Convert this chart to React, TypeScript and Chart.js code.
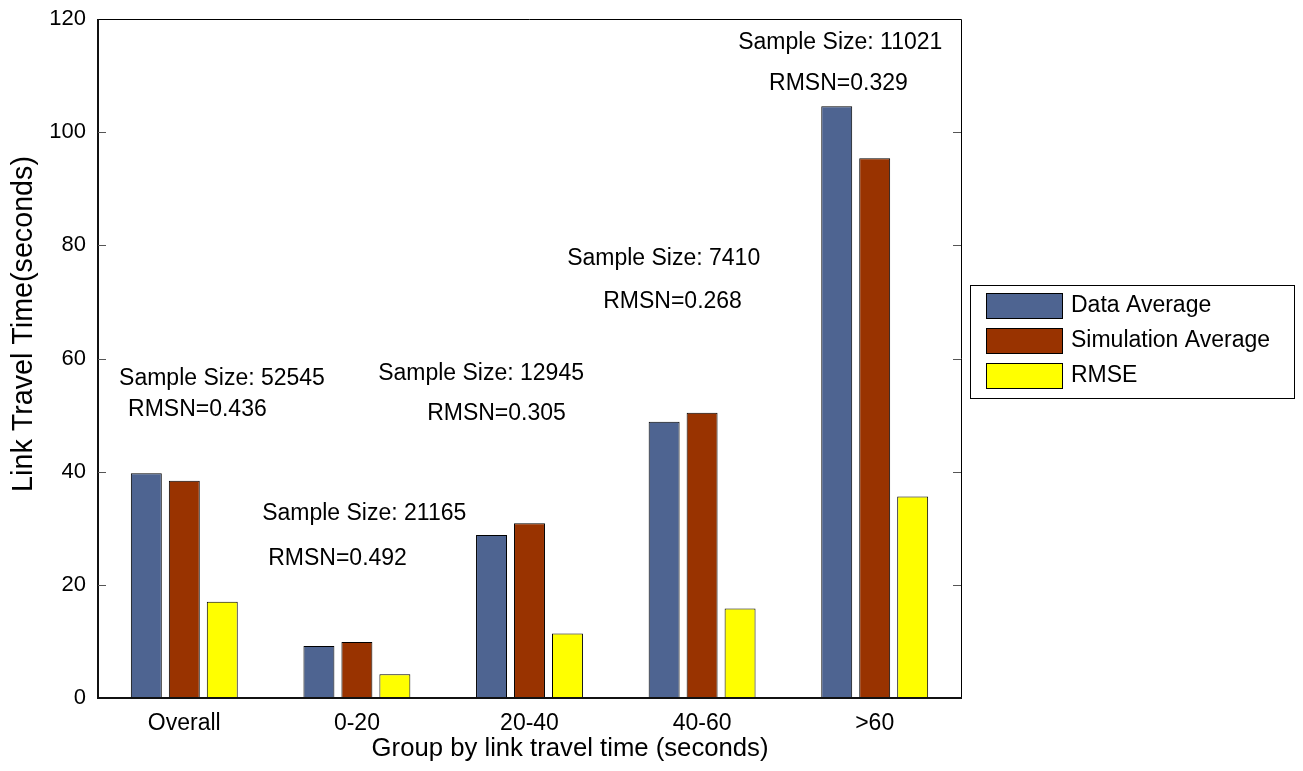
import React, { useEffect, useRef } from "react";
import { Chart, registerables } from "chart.js";

Chart.register(...registerables);

const categories = ["Overall", "0-20", "20-40", "40-60", ">60"];
const dataAverage = [39.7, 9.2, 28.8, 48.8, 104.6];
const simulationAverage = [38.4, 9.9, 30.9, 50.4, 95.4];
const rmse = [17.0, 4.2, 11.4, 15.8, 35.6];
const yTicks = [0, 20, 40, 60, 80, 100, 120];

const sampleSizeLabels = ["Sample Size: 52545", "Sample Size: 21165", "Sample Size: 12945", "Sample Size: 7410", "Sample Size: 11021"];
const sampleSizeX = [-0.378, 0.451, 1.123, 2.218, 3.209];
const sampleSizeY = [56.5, 32.5, 57.4, 77.7, 115.9];
const rmsnLabels = ["RMSN=0.436", "RMSN=0.492", "RMSN=0.305", "RMSN=0.268", "RMSN=0.329"];
const rmsnX = [-0.326, 0.486, 1.407, 2.427, 3.388];
const rmsnY = [50.9, 24.7, 50.2, 70.0, 108.5];

const xTitle = "Group by link travel time (seconds)";
const yTitle = "Link Travel Time(seconds)";

const FONT = "Arial, 'Liberation Sans', Helvetica, sans-serif";

const framePlugin = {
  id: "frame",
  afterDraw(chart: any) {
    const { ctx, chartArea } = chart;
    const { left, right, top, bottom } = chartArea;
    const y = chart.scales.y;
    const x = chart.scales.x;
    ctx.save();
    ctx.strokeStyle = "#000";
    ctx.lineWidth = 1;
    ctx.beginPath();
    ctx.moveTo(left, top + 0.5);
    ctx.lineTo(right + 0.5, top + 0.5);
    ctx.lineTo(right + 0.5, bottom);
    ctx.stroke();
    ctx.lineWidth = 2;
    ctx.strokeStyle = "#111";
    ctx.beginPath();
    ctx.moveTo(left, top);
    ctx.lineTo(left, bottom);
    ctx.lineTo(right + 1, bottom);
    ctx.stroke();
    ctx.lineWidth = 1;
    ctx.strokeStyle = "#555";
    yTicks.forEach((v) => {
      if (v === 0 || v === 120) return;
      const py = Math.round(y.getPixelForValue(v)) + 0.5;
      ctx.beginPath();
      ctx.moveTo(left, py);
      ctx.lineTo(left + 8, py);
      ctx.moveTo(right, py);
      ctx.lineTo(right - 8, py);
      ctx.stroke();
    });
    ctx.fillStyle = "#000";
    ctx.font = `23px ${FONT}`;
    ctx.textAlign = "left";
    ctx.textBaseline = "middle";
    sampleSizeLabels.forEach((t, i) => {
      ctx.fillText(t, x.getPixelForValue(sampleSizeX[i]), y.getPixelForValue(sampleSizeY[i]));
    });
    rmsnLabels.forEach((t, i) => {
      ctx.fillText(t, x.getPixelForValue(rmsnX[i]), y.getPixelForValue(rmsnY[i]));
    });
    // axis titles
    ctx.textAlign = "center";
    ctx.font = `25.7px ${FONT}`;
    ctx.fillText(xTitle, x.getPixelForValue(2.235), bottom + 51);
    ctx.save();
    ctx.translate(left - 74, y.getPixelForValue(66.1));
    ctx.rotate(-Math.PI / 2);
    ctx.font = `28.7px ${FONT}`;
    ctx.fillText(yTitle, 0, 0);
    ctx.restore();
    // legend
    ctx.textAlign = "left";
    const lx = right + 9;
    const ly = top + 266;
    const lw = 324;
    const lh = 113;
    ctx.lineWidth = 1;
    ctx.strokeStyle = "#000";
    ctx.strokeRect(lx + 0.5, ly + 0.5, lw, lh);
    chart.data.datasets.forEach((ds: any, i: number) => {
      const sy = ly + 8 + i * 35;
      ctx.fillStyle = ds.backgroundColor;
      ctx.fillRect(lx + 16, sy, 76, 25);
      ctx.strokeStyle = "#000";
      ctx.strokeRect(lx + 16.5, sy + 0.5, 76, 25);
      ctx.fillStyle = "#000";
      ctx.font = `23px ${FONT}`;
      ctx.fillText(ds.label, lx + 101, sy + 13);
    });
    ctx.restore();
  },
};

export default function App() {
  const ref = useRef<HTMLCanvasElement | null>(null);
  useEffect(() => {
    if (!ref.current) return;
    const mk = (label: string, data: number[], color: string) => ({
      label,
      data,
      backgroundColor: color,
      borderColor: "#000",
      borderWidth: 1,
      categoryPercentage: 0.66,
      barPercentage: 0.815,
    });
    const chart = new Chart(ref.current, {
      type: "bar",
      data: {
        labels: categories,
        datasets: [
          mk("Data Average", dataAverage, "#4E6491"),
          mk("Simulation Average", simulationAverage, "#993300"),
          mk("RMSE", rmse, "#FFFF00"),
        ],
      },
      options: {
        animation: false,
        responsive: true,
        maintainAspectRatio: false,
        layout: { padding: { top: 11, right: 334, left: 0, bottom: 0 } },
        plugins: { legend: { display: false }, tooltip: { enabled: false } },
        scales: {
          x: {
            grid: { display: false },
            border: { display: false },
            ticks: { color: "#000", font: { family: FONT, size: 23 }, padding: 4 },
            afterFit(scale: any) {
              scale.height = 65;
            },
          },
          y: {
            min: 0,
            max: 120,
            grid: { display: false },
            border: { display: false },
            afterBuildTicks(scale: any) {
              scale.ticks = yTicks.map((v) => ({ value: v }));
            },
            ticks: { color: "#000", font: { family: FONT, size: 22 }, padding: 4 },
            afterFit(scale: any) {
              scale.width = 90;
              scale.paddingTop = 0;
              scale.paddingBottom = 0;
            },
          },
        },
      },
      plugins: [framePlugin],
    } as any);
    return () => chart.destroy();
  }, []);
  return (
    <div style={{ width: "100%", height: 755, position: "relative" }}>
      <canvas ref={ref} style={{ display: "block" }} />
    </div>
  );
}
